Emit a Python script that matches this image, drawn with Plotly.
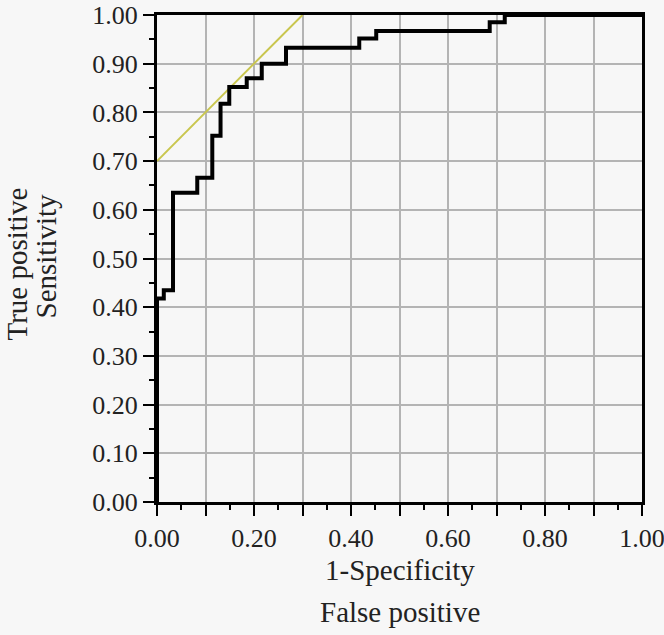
import plotly.graph_objects as go

# ROC step curve (1-specificity, sensitivity)
fpr = [0.0, 0.0, 0.014, 0.033, 0.083, 0.114, 0.131, 0.149, 0.185, 0.216, 0.266, 0.417, 0.452, 0.686, 0.717, 1.0]
tpr = [0.0, 0.418, 0.435, 0.635, 0.666, 0.752, 0.818, 0.852, 0.870, 0.900, 0.933, 0.952, 0.967, 0.985, 1.0, 1.0]

# yellow reference line
ref_x = [0.0, 0.30]
ref_y = [0.70, 1.00]

grid_vals = [i / 10 for i in range(11)]
x_labels = ["%.2f" % v if i % 2 == 0 else "" for i, v in enumerate(grid_vals)]
y_labels = ["%.2f" % v for v in grid_vals]

fig = go.Figure()
fig.add_trace(go.Scatter(x=ref_x, y=ref_y, mode="lines",
                         line=dict(color="#c9c64e", width=2), hoverinfo="skip"))
fig.add_trace(go.Scatter(x=fpr, y=tpr, mode="lines", line_shape="hv",
                         line=dict(color="black", width=4)))

axis_common = dict(
    range=[0, 1], showgrid=True, gridcolor="#b4b4b4", gridwidth=2, automargin=False,
    zeroline=False, showline=True, linecolor="black", linewidth=3, mirror=True,
    ticks="outside", ticklen=11, tickwidth=2, tickcolor="black",
    minor=dict(dtick=0.05, ticks="outside", ticklen=5, tickwidth=2, tickcolor="black", showgrid=False),
    tickfont=dict(size=26, color="#222"), ticklabeloverflow="allow",
)
fig.update_xaxes(**axis_common, tickvals=grid_vals, ticktext=x_labels)
fig.update_yaxes(**axis_common, tickvals=grid_vals, ticktext=y_labels)

# axis titles, two lines each
title_font = dict(size=29, color="#222")
fig.add_annotation(text="1-Specificity", xref="paper", yref="paper", x=0.5, y=0,
                   yanchor="middle", yshift=-68, showarrow=False, font=title_font)
fig.add_annotation(text="False positive", xref="paper", yref="paper", x=0.5, y=0,
                   yanchor="middle", yshift=-110, showarrow=False, font=title_font)
fig.add_annotation(text="True positive", xref="paper", yref="paper", x=0, y=0.5,
                   xanchor="center", xshift=-141, yshift=-6, textangle=-90,
                   showarrow=False, font=title_font)
fig.add_annotation(text="Sensitivity", xref="paper", yref="paper", x=0, y=0.5,
                   xanchor="center", xshift=-112, yshift=2, textangle=-90,
                   showarrow=False, font=title_font)

fig.update_layout(
    width=664, height=635, showlegend=False,
    margin=dict(l=157, r=22, t=15, b=133),
    paper_bgcolor="#f7f7f7", plot_bgcolor="#f7f7f7",
    font=dict(family="Liberation Serif", color="#222"),
)

# drop the page's default body margin so the figure sits at the window corner
fig.write_html("out.html", config={"displayModeBar": False},
               post_script="document.body.style.margin='0';")
